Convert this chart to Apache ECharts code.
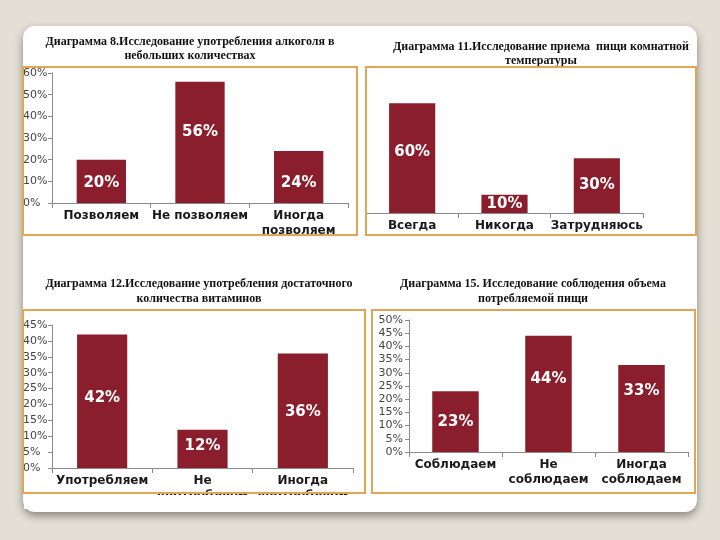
<!DOCTYPE html>
<html>
<head>
<meta charset="utf-8">
<script src="https://cdn.jsdelivr.net/npm/echarts@6/dist/echarts.min.js"></script>
<style>
html, body { margin: 0; padding: 0; background: #e4dfd4; }
#chart { width: 720px; height: 540px; }
</style>
</head>
<body>
<div id="chart"></div>
<script>
// Диаграмма 8 - алкоголь
var cats8 = ['Позволяем', 'Не позволяем', 'Иногда\nпозволяем'];
var vals8 = [20, 56, 24];
// Диаграмма 11 - пища комнатной температуры
var cats11 = ['Всегда', 'Никогда', 'Затрудняюсь'];
var vals11 = [60, 10, 30];
// Диаграмма 12 - витамины
var cats12 = ['Употребляем', 'Не\nупотребляем', 'Иногда\nупотребляем'];
var vals12 = [42, 12, 36];
// Диаграмма 15 - объем пищи
var cats15 = ['Соблюдаем', 'Не\nсоблюдаем', 'Иногда\nсоблюдаем'];
var vals15 = [23, 44, 33];

var titles = [
  'Диаграмма 8.Исследование употребления алкоголя в\nнебольших количествах',
  'Диаграмма 11.Исследование приема  пищи комнатной\nтемпературы',
  'Диаграмма 12.Исследование употребления достаточного\nколичества витаминов',
  'Диаграмма 15. Исследование соблюдения объема\nпотребляемой пищи'
];

// label nudges (px), the labels in the slide are not exactly centred
var nudge8 = [2, -10, 6];
var nudge11 = [-6, 0, 0];
var nudge12 = [-3, -3, 1];
var nudge15 = [0, -15, -17];

var barColor = '#8b1e2d';
var boxColor = '#e2a555';
var axisColor = '#8a8a8a';

var charts = [
  { cats: cats8, vals: vals8, nudge: nudge8, max: 60, interval: 10,
    grid: { left: 52, top: 73, width: 296, height: 130 }, yAlign: 'left', yMargin: 29, showY: true },
  { cats: cats11, vals: vals11, nudge: nudge11, max: 70, interval: 10,
    grid: { left: 366, top: 85, width: 277, height: 128 }, showY: false },
  { cats: cats12, vals: vals12, nudge: nudge12, max: 45, interval: 5,
    grid: { left: 52, top: 325, width: 301, height: 143 }, yAlign: 'left', yMargin: 29, showY: true },
  { cats: cats15, vals: vals15, nudge: nudge15, max: 50, interval: 5,
    grid: { left: 409, top: 320, width: 279, height: 132 }, yAlign: 'right', yMargin: 6, showY: true }
];

var titlePos = [
  { x: 190, y: 35, lh: 14 }, { x: 541, y: 40, lh: 14 }, { x: 199, y: 276, lh: 15 }, { x: 533, y: 276, lh: 15 }
];

var option = {
  animation: false,
  title: titles.map(function (t, i) {
    return {
      text: t, left: titlePos[i].x, top: titlePos[i].y, textAlign: 'center', padding: 0,
      textStyle: { fontFamily: 'Liberation Serif', fontWeight: 'bold', fontSize: 12, color: '#111', lineHeight: titlePos[i].lh }
    };
  }),
  grid: [], xAxis: [], yAxis: [], series: [],
  graphic: {
    elements: [
      { type: 'rect', z: 0, shape: { x: 23, y: 26, width: 674, height: 486, r: 12 },
        style: { fill: '#ffffff', shadowBlur: 8, shadowOffsetY: 4, shadowColor: 'rgba(0,0,0,0.4)' } },
      // hides the cut-off second label line under chart 12
      { type: 'rect', z: 100, shape: { x: 24, y: 495, width: 341, height: 14 }, style: { fill: '#ffffff' } },
      { type: 'rect', z: 101, shape: { x: 23, y: 67, width: 334, height: 168 }, style: { fill: 'none', stroke: boxColor, lineWidth: 2 } },
      { type: 'rect', z: 101, shape: { x: 366, y: 67, width: 330, height: 168 }, style: { fill: 'none', stroke: boxColor, lineWidth: 2 } },
      { type: 'rect', z: 101, shape: { x: 23, y: 310, width: 342, height: 183 }, style: { fill: 'none', stroke: boxColor, lineWidth: 2 } },
      { type: 'rect', z: 101, shape: { x: 372, y: 310, width: 323, height: 183 }, style: { fill: 'none', stroke: boxColor, lineWidth: 2 } }
    ]
  }
};

charts.forEach(function (c, i) {
  option.grid.push(c.grid);
  option.xAxis.push({
    type: 'category', gridIndex: i, data: c.cats,
    axisLine: { lineStyle: { color: axisColor } },
    axisTick: { show: true, length: 5, lineStyle: { color: axisColor } },
    axisLabel: { interval: 0, margin: 5, fontFamily: 'DejaVu Sans', fontWeight: 'bold', fontSize: 12, lineHeight: 15, color: '#1a1a1a' }
  });
  option.yAxis.push({
    type: 'value', gridIndex: i, min: 0, max: c.max, interval: c.interval,
    splitLine: { show: false },
    axisLine: { show: true, lineStyle: { color: c.showY ? axisColor : '#555' } },
    axisTick: { show: c.showY, length: 4, lineStyle: { color: axisColor } },
    axisLabel: { show: c.showY, formatter: '{value}%', align: c.yAlign, margin: c.yMargin,
      fontFamily: 'DejaVu Sans', fontSize: 11, color: '#444' }
  });
  option.series.push({
    type: 'bar', xAxisIndex: i, yAxisIndex: i, barWidth: '50%',
    itemStyle: { color: barColor },
    label: { show: true, position: 'inside', formatter: '{c}%', color: '#fff',
      fontFamily: 'DejaVu Sans', fontWeight: 'bold', fontSize: 15 },
    data: c.vals.map(function (v, k) {
      return { value: v, label: { offset: [0, c.nudge[k]] } };
    })
  });
});

var chart = echarts.init(document.getElementById('chart'));
chart.setOption(option);
</script>
</body>
</html>
